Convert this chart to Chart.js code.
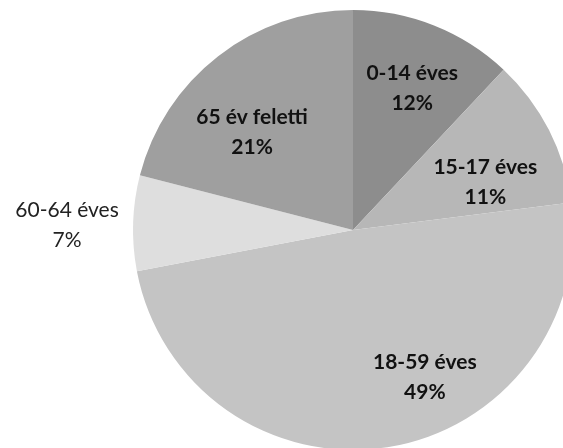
<!DOCTYPE html>
<html>
<head>
<meta charset="utf-8">
<script src="https://cdn.jsdelivr.net/npm/chart.js@4"></script>
<style>
  html, body { margin: 0; padding: 0; background: #fff; overflow: hidden; }
  body { width: 563px; height: 448px; position: relative; }
  #wrap { position: absolute; left: 0; top: 0; width: 706px; height: 460px; }
</style>
</head>
<body>
<div id="wrap"><canvas id="pieChart"></canvas></div>
<script>
// korcsoportok megoszlasa
const categories = ['0-14 éves', '15-17 éves', '18-59 éves', '60-64 éves', '65 év feletti'];
const values = [12, 11, 49, 7, 21];
const percentLabels = ['12%', '11%', '49%', '7%', '21%'];

const sliceColors = ['#8d8d8d', '#b7b7b7', '#c4c4c4', '#dedede', '#9f9f9f'];
// label placement: share of the radius + turn from the slice middle (deg)
const labelRadius = [0.70, 0.64, 0.745, 1.30, 0.64];
const labelTurn = [1, 7, -17, -0.8, -8];

// simple label plugin (no datalabels available offline)
const pieLabels = {
    id: 'pieLabels',
    afterDatasetsDraw(chart) {
        const c = chart.ctx;
        const arcs = chart.getDatasetMeta(0).data;
        c.save();
        c.textAlign = 'center';
        c.textBaseline = 'middle';
        arcs.forEach((arc, i) => {
            const mid = (arc.startAngle + arc.endAngle) / 2 + labelTurn[i] * Math.PI / 180;
            const r = arc.outerRadius * labelRadius[i];
            const x = arc.x + Math.cos(mid) * r;
            const y = arc.y + Math.sin(mid) * r;
            const outside = labelRadius[i] > 1;
            c.font = (outside ? '' : 'bold ') + '21px Lato, "Open Sans", sans-serif';
            c.fillStyle = outside ? '#222' : '#111';
            c.fillText(categories[i], x, y - 15);
            c.fillText(percentLabels[i], x, y + 15);
        });
        c.restore();
    }
};

new Chart(document.getElementById('pieChart'), {
    type: 'pie',
    data: {
        labels: categories,
        datasets: [{
            data: values,
            backgroundColor: sliceColors,
            borderWidth: 0
        }]
    },
    options: {
        responsive: true,
        maintainAspectRatio: false,
        animation: false,
        layout: { padding: 10 },
        plugins: {
            legend: { display: false },
            tooltip: { enabled: false }
        }
    },
    plugins: [pieLabels]
});
</script>
</body>
</html>
